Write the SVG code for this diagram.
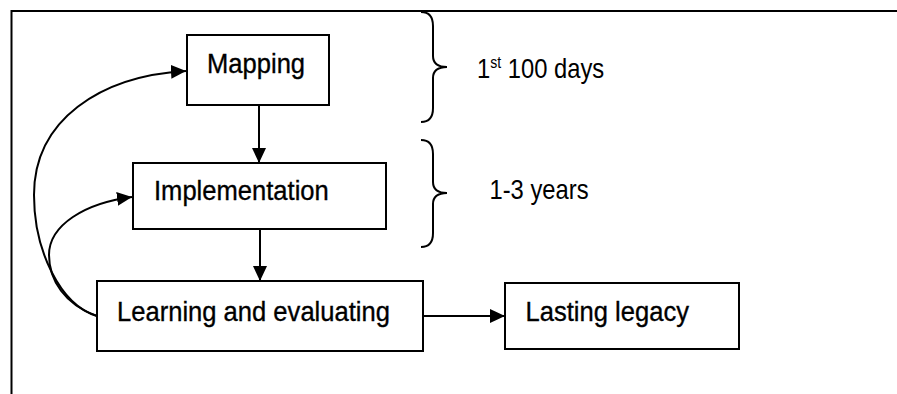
<svg xmlns="http://www.w3.org/2000/svg" width="897" height="394" viewBox="0 0 897 394">
<style>
.box{fill:#fff;stroke:#000;stroke-width:2}
.lbl{font-family:"Liberation Sans",Arial,sans-serif;font-size:27.5px;fill:#000;stroke:#000;stroke-width:0.35}
.ann{font-family:"Liberation Sans",Arial,sans-serif;font-size:27px;fill:#000}
.con{fill:none;stroke:#000;stroke-width:2}
.brace{fill:none;stroke:#000;stroke-width:2}
.frame{fill:none;stroke:#000;stroke-width:2}
</style>
<defs>
<marker id="ah" markerUnits="userSpaceOnUse" markerWidth="16" markerHeight="14" refX="15" refY="7" orient="auto">
<path d="M0,0 L15,7 L0,14 Z" fill="#000"/>
</marker>
</defs>
<rect width="897" height="394" fill="#fff"/>
<path class="frame" d="M11.5,394 L11.5,11 L897,11"/>
<g id="connectors">
<line class="con" x1="259" y1="105" x2="259" y2="163" marker-end="url(#ah)"/>
<line class="con" x1="260" y1="229" x2="260" y2="281" marker-end="url(#ah)"/>
<line class="con" x1="423" y1="316" x2="505" y2="316" marker-end="url(#ah)"/>
<path class="con" d="M97,316 C60,305 34,250 34,195 C34,120 100,76 186,71" marker-end="url(#ah)"/>
<path class="con" d="M97,316 C65,305 49,280 49,255 C49,225 85,203 132,197" marker-end="url(#ah)"/>
</g>
<g id="mapping">
<rect class="box" x="187" y="35" width="142" height="70"/>
<text class="lbl" transform="translate(207,73.3) scale(0.93,1)">Mapping</text>
</g>
<g id="implementation">
<rect class="box" x="133" y="163" width="253" height="66"/>
<text class="lbl" transform="translate(154,199.5) scale(0.93,1)">Implementation</text>
</g>
<g id="learning">
<rect class="box" x="97" y="281" width="326" height="70"/>
<text class="lbl" transform="translate(117,320.5) scale(0.93,1)">Learning and evaluating</text>
</g>
<g id="legacy">
<rect class="box" x="505" y="283" width="234" height="66"/>
<text class="lbl" transform="translate(525.5,320.5) scale(0.93,1)">Lasting legacy</text>
</g>
<g id="brace1">
<path class="brace" d="M421,12 Q433,12 433,26 L433,56 Q433,67 447,67 Q433,67 433,78 L433,108 Q433,122 421,122"/>
<text class="ann" transform="translate(477,78) scale(0.88,1)">1<tspan font-size="16" dy="-10">st</tspan><tspan dy="10"> 100 days</tspan></text>
</g>
<g id="brace2">
<path class="brace" d="M421,140 Q433,140 433,154 L433,182 Q433,193 447,193 Q433,193 433,204 L433,233 Q433,247 421,247"/>
<text class="ann" transform="translate(489.5,199.3) scale(0.88,1)">1-3 years</text>
</g>
</svg>
